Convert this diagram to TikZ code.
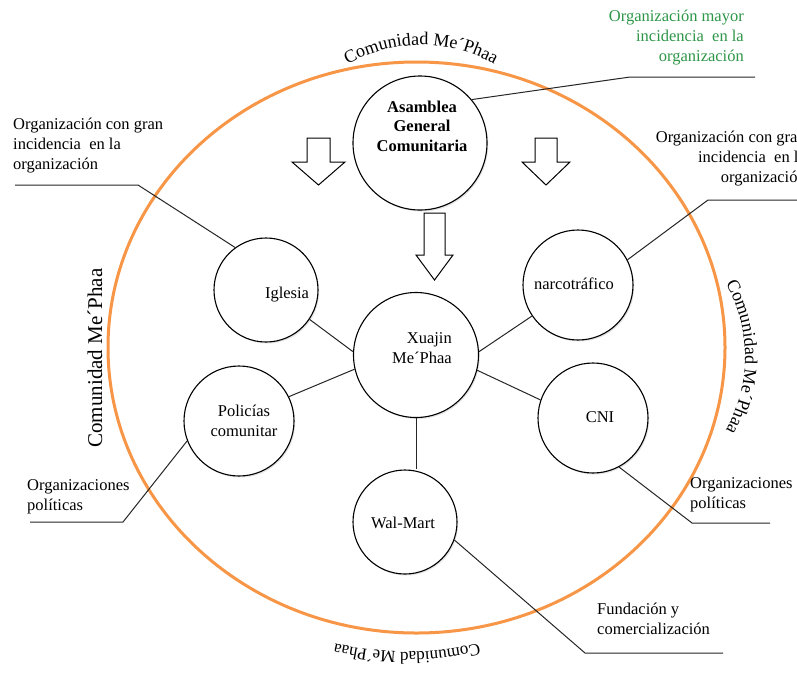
\documentclass[tikz,border=0pt]{standalone}
\usepackage{fontspec}
\setmainfont{Liberation Serif}
\usetikzlibrary{shadows,decorations.text}
\definecolor{orng}{RGB}{247,150,70}
\definecolor{grn}{RGB}{46,150,72}
\begin{document}
\begin{tikzpicture}[x=1pt,y=1pt,
  bubble/.style={circle,draw=black,line width=1.1pt,fill=white,inner sep=0pt,
     drop shadow={shadow xshift=1.2pt,shadow yshift=-1.5pt,opacity=0.22}},
  lbl/.style={inner sep=0pt,font=\fontsize{16.5}{20}\selectfont},
  conn/.style={draw=black!85,line width=1pt},
  blockarrow/.style={draw=black,line width=1pt,fill=white,line join=miter},
]
\useasboundingbox (0,0) rectangle (797,-673);
\fill[white] (0,0) rectangle (797,-673);

% community ellipse
\draw[orng,line width=3pt] (416.5,-347.5) ellipse [x radius=308.5,y radius=285.5];

% curved community labels
\path[decorate,decoration={text along path,text align=center,
  text={|\fontsize{18}{20}\selectfont|Comunidad Me´Phaa}}]
  ([shift={(150:150)}]421,-195) arc[start angle=150,end angle=30,radius=150];
\path[decorate,decoration={text along path,text align=center,
  text={|\fontsize{18}{20}\selectfont|Comunidad Me´Phaa}}]
  ([shift={(60:150)}]595,-357) arc[start angle=60,end angle=-60,radius=150];
\path[decorate,decoration={text along path,text align=center,
  text={|\fontsize{17}{20}\selectfont|Comunidad Me´Phaa}}]
  ([shift={(-60:300)}]407,-352) arc[start angle=-60,end angle=-120,radius=300];
\node[lbl,font=\fontsize{21}{24}\selectfont,rotate=90] (comL) at (95,-358) {Comunidad Me´Phaa};

% circles
\node[bubble,minimum size=134pt] (asam)  at (420,-143) {};
\node[bubble,minimum size=104pt] (igl)   at (266,-290) {};
\node[bubble,minimum size=110pt] (narco) at (578,-285) {};
\node[bubble,minimum size=125pt] (xua)   at (416,-355) {};
\node[bubble,minimum size=110pt] (pol)   at (239,-421) {};
\node[bubble,minimum size=110pt] (cni)   at (593,-418) {};
\node[bubble,minimum size=104pt] (wal)   at (405,-522) {};

% block arrows
\draw[blockarrow] (307,-138) -- (330,-138) -- (330,-162) -- (345,-162) -- (318.5,-185) -- (292,-162) -- (307,-162) -- cycle;
\draw[blockarrow] (535,-138) -- (557,-138) -- (557,-162) -- (570,-162) -- (546,-185) -- (522,-162) -- (535,-162) -- cycle;
\draw[blockarrow] (424,-213) -- (445,-213) -- (445,-255) -- (453,-255) -- (434.5,-280) -- (416,-255) -- (424,-255) -- cycle;

% spokes
\draw[conn] (igl.-34) -- (xua.177);
\draw[conn] (pol.26) -- (xua.193);
\draw[conn] (narco.214) -- (xua.3);
\draw[conn] (cni.161) -- (xua.-14);
\draw[conn] (xua.south) -- (xua.south |- wal.north);

% callout coordinates
\coordinate (cA) at (630,-77);   \coordinate (eA) at (755,-77);
\coordinate (cI) at (138,-185);  \coordinate (eI) at (15,-185);
\coordinate (cN) at (708,-200);  \coordinate (eN) at (800,-200);
\coordinate (cP) at (123,-522);  \coordinate (eP) at (30,-522);
\coordinate (cC) at (692,-523);  \coordinate (eC) at (770,-523);
\coordinate (cW) at (585,-653);  \coordinate (eW) at (723,-653);

\draw[conn] (asam.40) -- (cA) -- (eA);
\draw[conn] (igl.126) -- (cI) -- (eI);
\draw[conn] (narco.27) -- (cN) -- (eN);
\draw[conn] (pol.201) -- (cP) -- (eP);
\draw[conn] (cni.-62) -- (cC) -- (eC);
\draw[conn] (wal.-20) -- (cW) -- (eW);

% texts in circles
\node[lbl,font=\bfseries\fontsize{16.5}{19.5}\selectfont,align=center,anchor=north] (tAsam) at (422,-100.5) {Asamblea\\General\\Comunitaria};
\node[lbl,anchor=base] (tIgl) at (287,-298) {Iglesia};
\node[lbl,anchor=base] (tNarco) at (574,-289) {narcotráfico};
\node[lbl,align=right,anchor=north east] (tXua) at (452,-332.5) {Xuajin\\Me´Phaa};
\node[lbl,align=center,anchor=north] (tPol) at (244,-404.5) {Policías\\comunitar};
\node[lbl,anchor=base] (tCNI) at (600,-422) {CNI};
\node[lbl,anchor=base] (tWal) at (403,-528) {Wal-Mart};

% callout texts
\node[lbl,text=grn,align=right,anchor=north east] (tGreen) at (744,-9.5) {Organización mayor\\incidencia\ \ en la\\organización};
\node[lbl,align=left,anchor=north west] (tTL) at (13,-117.5) {Organización con gran\\incidencia\ \ en la\\organización};
\node[lbl,align=right,anchor=north east] (tTR) at (806,-131) {Organización con gran\\incidencia\ \ en la\\organización};
\node[lbl,align=left,anchor=north west] (tPL) at (27,-479.5) {Organizaciones\\políticas};
\node[lbl,align=left,anchor=north west] (tPR) at (690,-477.5) {Organizaciones\\políticas};
\node[lbl,align=left,anchor=north west] (tFund) at (597,-602.5) {Fundación y\\comercialización};
\end{tikzpicture}
\end{document}
